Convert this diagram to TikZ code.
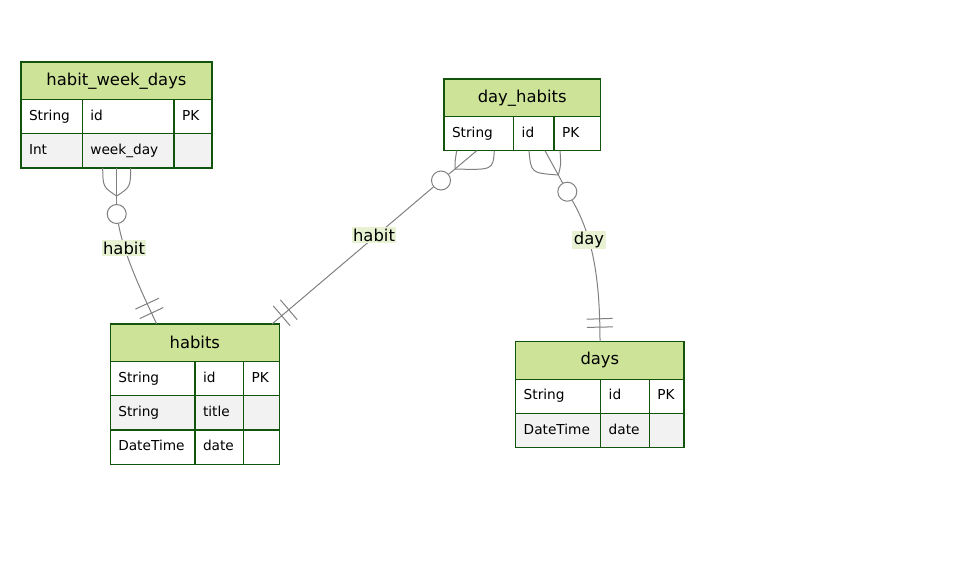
\documentclass[tikz,border=0pt]{standalone}
\usepackage{fontspec}
\setmainfont{DejaVu Sans}
\usetikzlibrary{positioning}
\definecolor{erhead}{HTML}{CDE498}
\definecolor{erborder}{HTML}{13540C}
\definecolor{errow}{HTML}{F2F2F2}
\definecolor{erline}{HTML}{808080}
\definecolor{erlabel}{HTML}{E8F2D2}
\newcommand{\headfont}{\fontsize{16.4}{19}\selectfont}
\newcommand{\attrfont}{\fontsize{13.7}{16}\selectfont}
\tikzset{
  % entity boxes
  ehead/.style={
    draw = erborder, fill = erhead, line width = 1.2pt,
    anchor = north west, minimum height = 37.5pt,
    inner sep = 0pt, outer sep = 0pt, font = \headfont
  },
  attr/.style={
    draw = erborder, fill = white, line width = 1.2pt,
    anchor = north west, align = left, minimum height = 34.2pt,
    inner xsep = 8pt, inner ysep = 0pt, outer sep = 0pt,
    text height = 10pt, text depth = 3pt, font = \attrfont
  },
  % relationship lines
  rel/.style={
    draw = erline, line width = 1pt
  },
  ring/.style={
    circle, draw = erline, fill = white, line width = 1pt,
    minimum size = 19pt, inner sep = 0pt
  },
  bar/.style={
    draw = erline, line width = 1pt, sloped,
    minimum width = 0pt, minimum height = 26pt, inner sep = 0pt
  },
  rlabel/.style={
    fill = erlabel, inner sep = 1.5pt, font = \headfont
  },
}
\begin{document}
\begin{tikzpicture}
          [x=1pt, y=-1pt
          ]
          \useasboundingbox (0,0) rectangle (963,579);

          % habit_week_days
          \node (hwd) [ehead, minimum width=191pt] at (21,62) {habit\_week\_days};
          \node (hwdT1) [attr, text width=45.3pt] at (hwd.south west) {String};
          \node (hwdN1) [attr, text width=75.7pt] at (hwdT1.north east) {id};
          \node (hwdK1) [attr, text width=22pt] at (hwdN1.north east) {PK};
          \node (hwdT2) [attr, fill=errow, text width=45.3pt] at (hwdT1.south west) {Int};
          \node (hwdN2) [attr, fill=errow, text width=75.7pt] at (hwdT2.north east) {week\_day};
          \node (hwdK2) [attr, fill=errow, text width=22pt] at (hwdN2.north east) {};

          % day_habits
          \node (dh) [ehead, minimum width=156.3pt] at (444,79) {day\_habits};
          \node (dhT1) [attr, text width=53.7pt] at (dh.south west) {String};
          \node (dhN1) [attr, text width=24.3pt] at (dhT1.north east) {id};
          \node (dhK1) [attr, text width=30.3pt] at (dhN1.north east) {PK};

          % habits
          \node (hab) [ehead, minimum width=169pt] at (110.3,324) {habits};
          \node (habT1) [attr, text width=68.7pt] at (hab.south west) {String};
          \node (habN1) [attr, text width=32.7pt] at (habT1.north east) {id};
          \node (habK1) [attr, text width=19.6pt] at (habN1.north east) {PK};
          \node (habT2) [attr, fill=errow, text width=68.7pt] at (habT1.south west) {String};
          \node (habN2) [attr, fill=errow, text width=32.7pt] at (habT2.north east) {title};
          \node (habK2) [attr, fill=errow, text width=19.6pt] at (habN2.north east) {};
          \node (habT3) [attr, text width=68.7pt] at (habT2.south west) {DateTime};
          \node (habN3) [attr, text width=32.7pt] at (habT3.north east) {date};
          \node (habK3) [attr, text width=19.6pt] at (habN3.north east) {};

          % days
          \node (days) [ehead, minimum width=168.3pt] at (515.7,341.7) {days};
          \node (daysT1) [attr, text width=69pt] at (days.south west) {String};
          \node (daysN1) [attr, text width=32.6pt] at (daysT1.north east) {id};
          \node (daysK1) [attr, text width=18.7pt] at (daysN1.north east) {PK};
          \node (daysT2) [attr, fill=errow, text width=69pt] at (daysT1.south west) {DateTime};
          \node (daysN2) [attr, fill=errow, text width=32.6pt] at (daysT2.north east) {date};
          \node (daysK2) [attr, fill=errow, text width=18.7pt] at (daysN2.north east) {};

          % habit_week_days -- habits
          \coordinate (hwdFootL) at (102.7,167.9);
          \coordinate (hwdFootM) at (116.7,167.9);
          \coordinate (hwdFootR) at (130.7,167.9);
          \coordinate (hwdTip) at (116.7,196);
          \coordinate (habIn1) at (156.7,324);
          \draw[rel] (hwdFootL) .. controls (103,187) .. (hwdTip);
          \draw[rel] (hwdFootR) .. controls (130.4,187) .. (hwdTip);
          \draw[rel] (hwdFootM) -- (hwdTip) -- (116.7,210);
          \node (hwdRing) [ring] at (116.7,214) {};
          \draw[rel] (hwdRing) .. controls (124,255) and (142,293) .. (habIn1)
                node[bar, pos=0.79] {}
                node[bar, pos=0.885] {};
          \node (lblHwd) [rlabel] at (124,248) {habit};

          % day_habits -- habits
          \coordinate (dhFootL) at (456.7,150.7);
          \coordinate (dhFootM) at (476.7,150.7);
          \coordinate (dhFootR) at (494.3,150.7);
          \coordinate (dhTipL) at (455,169);
          \coordinate (habIn2) at (272,324);
          \draw[rel] (dhFootL) .. controls (455,161) .. (dhTipL);
          \draw[rel] (dhFootR) .. controls (493,170) .. (dhTipL);
          \draw[rel] (dhFootM) -- (dhTipL);
          \node (dhRingL) [ring] at (441,180.5) {};
          \draw[rel] (dhTipL) -- (dhRingL);
          \draw[rel] (dhRingL) -- (habIn2)
                node[bar, pos=0.896] {}
                node[bar, pos=0.94] {};
          \node (lblDh) [rlabel] at (374,235) {habit};

          % day_habits -- days
          \coordinate (dhFootA) at (529,150.7);
          \coordinate (dhFootB) at (545,150.7);
          \coordinate (dhFootC) at (560,150.7);
          \coordinate (dhTipR) at (558.3,175);
          \coordinate (daysIn) at (600,341.7);
          \draw[rel] (dhFootA) .. controls (531,173) .. (dhTipR);
          \draw[rel] (dhFootC) .. controls (561,165) .. (dhTipR);
          \draw[rel] (dhFootB) -- (dhTipR);
          \node (dhRingR) [ring] at (567.3,191.7) {};
          \draw[rel] (dhTipR) -- (dhRingR);
          \draw[rel] (dhRingR) .. controls (592,235) and (600,275) .. (daysIn)
                node[bar, pos=0.88] {}
                node[bar, pos=0.925] {};
          \node (lblDays) [rlabel] at (589,240) {day};
      \end{tikzpicture}
\end{document}
